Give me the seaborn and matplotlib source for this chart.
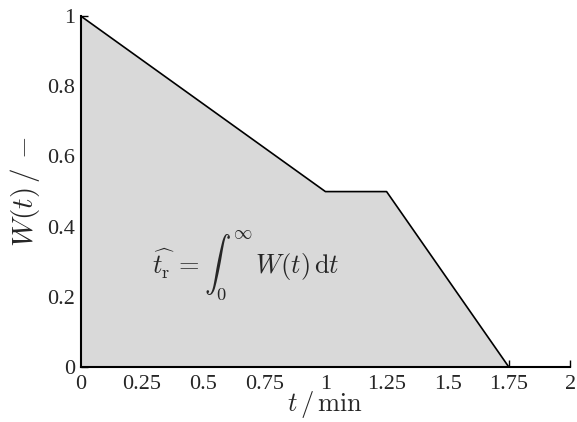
import matplotlib
matplotlib.use('Agg')
import matplotlib.pyplot as plt
import seaborn as sns
import pandas as pd
from matplotlib.ticker import MultipleLocator

# Données
t_min = [0, 1, 1.25, 1.75]
w_values = [1, 0.5, 0.5, 0]
x_ticks = [0, 0.25, 0.5, 0.75, 1, 1.25, 1.5, 1.75, 2]
x_tick_labels = ['0', '0.25', '0.5', '0.75', '1', '1.25', '1.5', '1.75', '2']
y_ticks = [0, 0.2, 0.4, 0.6, 0.8, 1]
y_tick_labels = ['0', '0.2', '0.4', '0.6', '0.8', '1']

sns.set_theme(style='ticks')
plt.rcParams['font.family'] = ['Liberation Serif', 'DejaVu Serif']
plt.rcParams['mathtext.fontset'] = 'cm'

df = pd.DataFrame({'t': t_min, 'W': w_values})

fig = plt.figure(figsize=(5.77, 4.22), dpi=100)
ax = fig.add_axes([0.140, 0.130, 0.848, 0.832])

ax.fill_between(df['t'], df['W'], 0, color='#d9d9d9', linewidth=0)
sns.lineplot(data=df, x='t', y='W', color='black', linewidth=1.2, ax=ax)

ax.set_xlim(0, 2)
ax.set_ylim(0, 1)
ax.set_xticks(x_ticks)
ax.set_xticklabels(x_tick_labels, fontsize=16)
ax.set_yticks(y_ticks)
ax.set_yticklabels(y_tick_labels, fontsize=16)
ax.yaxis.set_minor_locator(MultipleLocator(0.1))
ax.tick_params(axis='both', which='both', direction='in', color='black')
ax.tick_params(which='major', length=5, width=1)
ax.tick_params(which='minor', length=5, width=1)
ax.tick_params(axis='x', pad=6)
ax.tick_params(axis='y', pad=4)

sns.despine(ax=ax)
for s in ['left', 'bottom']:
    ax.spines[s].set_color('black')
    ax.spines[s].set_linewidth(1.5)

ax.set_xlabel(r'$t\,/\,\mathrm{min}$', fontsize=19, labelpad=-4)
ax.set_ylabel(r'$W(t)\,/\,-$', fontsize=21, labelpad=4)

ax.text(0.29, 0.29, r'$\widehat{t_{\mathrm{r}}}\, = \int_0^{\infty}\, W(t)\,\mathrm{d}t$',
        fontsize=19, va='center', ha='left')

fig.savefig('out.png', dpi=100)
plt.close(fig)
